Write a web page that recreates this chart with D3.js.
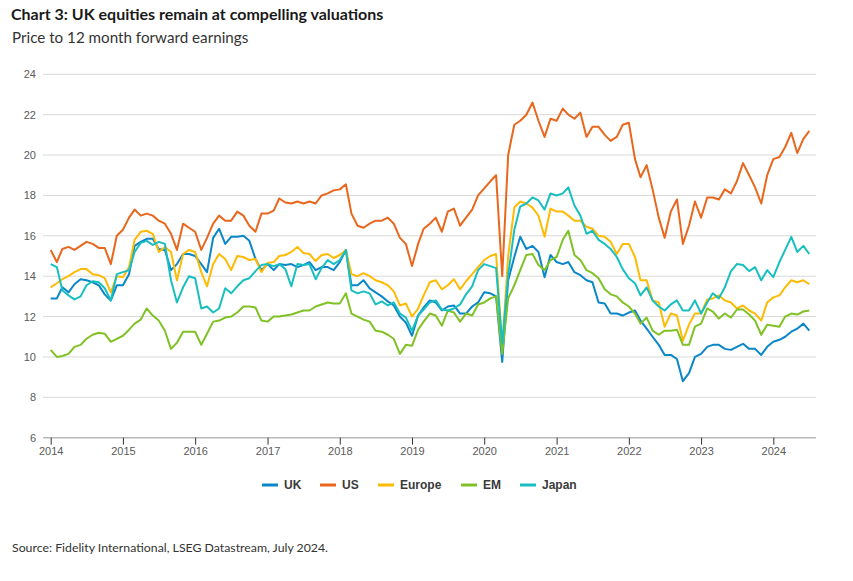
<!DOCTYPE html>
<html><head><meta charset="utf-8">
<script src="https://cdn.jsdelivr.net/npm/d3@7"></script>
<style>body{margin:0;background:#fff;} svg{display:block;}</style>
</head><body>
<svg id="chart" width="853" height="581"></svg>
<script>
// ---- data (monthly, Jan 2014 .. Jul 2024) ----
const seriesNames = ["UK", "US", "Europe", "EM", "Japan"];
const seriesColors = ["#0a87c8", "#e8671c", "#fdbb05", "#80c226", "#19bfc0"];
const yTicks = [6, 8, 10, 12, 14, 16, 18, 20, 22, 24];
const xTickYears = [2014, 2015, 2016, 2017, 2018, 2019, 2020, 2021, 2022, 2023, 2024];

const uk = [
 12.9, 12.9, 13.45, 13.2, 13.6, 13.85, 13.8, 13.7, 13.55, 13.1, 12.8, 13.55,
 13.55, 14.1, 15.5, 15.7, 15.85, 15.85, 15.35, 15.3, 14.3, 14.6, 15.1, 15.1,
 15.0, 14.6, 14.2, 15.9, 16.35, 15.6, 15.95, 15.95, 16.0, 15.75, 14.85, 14.3,
 14.6, 14.3, 14.6, 14.55, 14.6, 14.45, 14.55, 14.7, 14.3, 14.45, 14.45, 14.3,
 14.7, 15.3, 13.55, 13.55, 13.8, 13.4, 13.2, 13.0, 12.75, 12.55, 12.0, 11.7,
 11.05, 12.05, 12.45, 12.8, 12.7, 12.3, 12.5, 12.55, 12.15, 12.15, 12.5, 12.7,
 13.2, 13.15, 13.0, 9.75, 13.8, 14.95, 15.95, 15.35, 15.5, 15.2, 13.95, 15.05,
 14.7, 14.6, 14.7, 14.2, 14.05, 13.8, 13.7, 12.7, 12.65, 12.15, 12.15, 12.05,
 12.2, 12.3, 11.8, 11.4, 11.0, 10.6, 10.1, 10.1, 9.9, 8.8, 9.2, 10.0,
 10.15, 10.5, 10.6, 10.6, 10.4, 10.35, 10.5, 10.65, 10.4, 10.4, 10.1, 10.5,
 10.75, 10.85, 11.0, 11.25, 11.4, 11.65, 11.3
];
const us = [
 15.3, 14.7, 15.35, 15.45, 15.3, 15.5, 15.7, 15.6, 15.4, 15.4, 14.6, 16.0,
 16.3, 16.9, 17.3, 17.0, 17.1, 17.0, 16.75, 16.6, 16.1, 15.3, 16.6, 16.4,
 16.2, 15.3, 15.9, 16.6, 17.0, 16.75, 16.75, 17.2, 17.0, 16.5, 16.2, 17.1,
 17.1, 17.25, 17.85, 17.65, 17.6, 17.7, 17.6, 17.7, 17.6, 18.0, 18.1, 18.25,
 18.3, 18.55, 17.1, 16.5, 16.4, 16.6, 16.75, 16.75, 16.9, 16.6, 15.9, 15.6,
 14.5, 15.6, 16.35, 16.6, 16.9, 16.2, 17.2, 17.35, 16.5, 16.9, 17.3, 18.0,
 18.35, 18.7, 19.0, 14.0, 20.0, 21.5, 21.7, 22.0, 22.6, 21.7, 20.9, 21.8,
 21.7, 22.3, 22.0, 21.8, 22.1, 20.9, 21.4, 21.4, 21.0, 20.7, 20.9, 21.5,
 21.6, 19.8, 18.9, 19.5, 18.3, 16.9, 15.9, 17.2, 17.8, 15.6, 16.5, 17.7,
 16.9, 17.9, 17.9, 17.8, 18.3, 18.1, 18.7, 19.6, 19.0, 18.4, 17.6, 19.0,
 19.8, 19.9, 20.4, 21.1, 20.1, 20.8, 21.2
];
const europe = [
 13.45, 13.65, 13.85, 14.0, 14.2, 14.35, 14.35, 14.1, 14.05, 13.9, 13.2, 14.0,
 13.95, 14.45, 15.8, 16.2, 16.25, 16.1, 15.2, 15.45, 15.2, 13.8, 15.1, 15.3,
 15.2, 14.2, 13.5, 14.6, 15.1, 14.85, 14.3, 15.0, 14.95, 14.8, 14.85, 14.2,
 14.65, 14.7, 15.0, 15.05, 15.2, 15.45, 15.15, 15.1, 14.75, 15.05, 15.1, 14.9,
 15.05, 15.3, 14.1, 14.0, 14.15, 14.0, 13.8, 13.7, 13.55, 13.25, 12.55, 12.65,
 12.0, 12.4, 13.05, 13.7, 13.8, 13.35, 13.55, 13.85, 13.35, 13.75, 14.1, 14.45,
 14.8, 15.0, 15.1, 10.5, 15.0, 17.4, 17.7, 17.6, 17.4, 17.0, 15.95, 17.35,
 17.2, 17.2, 17.0, 16.75, 16.75, 16.45, 16.35, 16.0, 15.95, 15.7, 15.1, 15.6,
 15.6, 14.95, 13.8, 13.8, 12.8, 12.7, 11.5, 12.15, 12.05, 10.8, 11.6, 12.15,
 12.15, 12.85, 12.9, 13.05, 12.8, 12.7, 12.4, 12.55, 12.3, 12.15, 11.8, 12.7,
 12.95, 13.05, 13.45, 13.8, 13.7, 13.8, 13.6
];
const em = [
 10.35, 10.0, 10.05, 10.15, 10.5, 10.6, 10.9, 11.1, 11.2, 11.15, 10.75, 10.9,
 11.05, 11.35, 11.65, 11.85, 12.4, 12.05, 11.8, 11.3, 10.4, 10.7, 11.25, 11.25,
 11.25, 10.6, 11.15, 11.75, 11.8, 11.95, 12.0, 12.2, 12.5, 12.5, 12.45, 11.8,
 11.75, 12.0, 12.0, 12.05, 12.1, 12.2, 12.3, 12.3, 12.5, 12.6, 12.7, 12.65,
 12.65, 13.15, 12.15, 12.0, 11.85, 11.75, 11.3, 11.25, 11.1, 10.9, 10.15, 10.6,
 10.55, 11.35, 11.75, 12.15, 12.05, 11.55, 12.3, 12.2, 11.75, 12.15, 12.05, 12.6,
 12.7, 12.9, 13.0, 10.15, 12.9, 13.55, 14.3, 15.05, 15.1, 14.55, 14.3, 14.8,
 14.95, 15.8, 16.25, 15.05, 14.8, 14.3, 14.15, 13.9, 13.35, 13.1, 13.0, 12.7,
 12.5, 12.15, 11.65, 11.95, 11.3, 11.1, 11.3, 11.3, 11.35, 10.6, 10.6, 11.5,
 11.65, 12.4, 12.25, 11.9, 12.15, 11.95, 12.35, 12.35, 12.1, 11.8, 11.1, 11.6,
 11.55, 11.5, 12.0, 12.15, 12.1, 12.25, 12.3
];
const japan = [
 14.6, 14.45, 13.3, 13.05, 12.85, 13.0, 13.55, 13.75, 13.7, 13.4, 12.8, 14.1,
 14.2, 14.3, 15.2, 15.65, 15.75, 15.55, 15.7, 15.6, 13.8, 12.7, 13.45, 14.0,
 13.9, 12.4, 12.5, 12.2, 12.4, 13.4, 13.15, 13.5, 13.8, 13.9, 14.25, 14.55,
 14.6, 14.5, 14.6, 14.35, 13.5, 14.6, 14.55, 14.6, 13.85, 14.4, 14.8, 14.6,
 14.8, 15.3, 13.3, 13.15, 13.25, 13.15, 12.6, 12.75, 12.55, 12.7, 12.15, 11.95,
 11.3, 12.05, 12.35, 12.7, 12.8, 12.35, 12.3, 12.4, 12.6, 13.1, 13.5, 14.3,
 14.6, 14.5, 14.4, 10.65, 14.05, 16.3, 17.45, 17.6, 17.9, 17.75, 17.3, 18.1,
 18.0, 18.1, 18.4, 17.5, 17.0, 16.1, 16.25, 15.8, 15.6, 15.35, 14.95, 14.35,
 13.9, 13.65, 13.05, 13.45, 12.8, 12.5, 12.3, 12.6, 12.8, 12.3, 12.3, 12.8,
 12.15, 12.7, 13.15, 12.9, 13.45, 14.25, 14.6, 14.55, 14.25, 14.45, 13.8, 14.3,
 13.95, 14.7, 15.3, 15.95, 15.2, 15.5, 15.1
];
const seriesValues = [uk, us, europe, em, japan];

// ---- drawing ----
const svg = d3.select("#chart");
const startDate = new Date(2014, 0, 1);
const dates = d3.timeMonth.range(startDate, new Date(2014, uk.length, 1));

const x = d3.scaleTime()
  .domain([new Date(2014, 0, 1), new Date(2024, 0, 1)])
  .range([50.7, 773.3]);
const y = d3.scaleLinear().domain([6, 24]).range([437.7, 74.3]);
const plotLeft = 43, plotRight = 816;

// titles
svg.append("text").attr("x", 11).attr("y", 19.5)
  .style("font-family", "Lato, 'Noto Sans', sans-serif").style("font-weight", 700)
  .style("font-size", "16px").attr("fill", "#1a1a1a")
  .text("Chart 3: UK equities remain at compelling valuations");
svg.append("text").attr("x", 12).attr("y", 43)
  .style("font-family", "Lato, 'Noto Sans', sans-serif")
  .style("font-size", "15.2px").attr("fill", "#333")
  .text("Price to 12 month forward earnings");

// gridlines
svg.append("g").selectAll("line").data(yTicks.filter(t => t !== 6)).join("line")
  .attr("x1", plotLeft).attr("x2", plotRight)
  .attr("y1", d => y(d)).attr("y2", d => y(d))
  .attr("stroke", "#d9d9d9").attr("stroke-width", 1);

// y axis labels
const yAxis = d3.axisLeft(y).tickValues(yTicks).tickSize(0).tickPadding(7);
const gy = svg.append("g").attr("transform", `translate(${plotLeft},0)`).call(yAxis);
gy.select(".domain").remove();
gy.selectAll("text").style("font-family", "'Liberation Sans', Arial, sans-serif")
  .style("font-size", "11px").attr("fill", "#5a5a5a");

// x axis
svg.append("line").attr("x1", plotLeft).attr("x2", plotRight)
  .attr("y1", y(6)).attr("y2", y(6)).attr("stroke", "#b8b8b8").attr("stroke-width", 1.5);
const xAxis = d3.axisBottom(x)
  .tickValues(xTickYears.map(yr => new Date(yr, 0, 1)))
  .tickFormat(d3.timeFormat("%Y")).tickSize(7).tickPadding(3);
const gx = svg.append("g").attr("transform", `translate(0,${y(6)})`).call(xAxis);
gx.select(".domain").remove();
gx.selectAll(".tick line").attr("stroke", "#333");
gx.selectAll("text").style("font-family", "'Liberation Sans', Arial, sans-serif")
  .style("font-size", "11px").attr("fill", "#5a5a5a");

// lines
const line = d3.line().x((d, i) => x(dates[i])).y(d => y(d));
seriesValues.forEach((vals, k) => {
  svg.append("path").datum(vals).attr("d", line)
    .attr("fill", "none").attr("stroke", seriesColors[k])
    .attr("stroke-width", 2).attr("stroke-linejoin", "round");
});

// legend
const legendX = [262, 320, 378, 461, 520];
const lg = svg.append("g");
seriesNames.forEach((name, k) => {
  lg.append("line").attr("x1", legendX[k]).attr("x2", legendX[k] + 16)
    .attr("y1", 485).attr("y2", 485).attr("stroke", seriesColors[k]).attr("stroke-width", 3);
  lg.append("text").attr("x", legendX[k] + 22).attr("y", 489)
    .style("font-family", "'Liberation Sans', Arial, sans-serif").style("font-weight", 700)
    .style("font-size", "12px").attr("fill", "#3a3a3a").text(name);
});

// source
svg.append("text").attr("x", 12).attr("y", 552)
  .style("font-family", "Lato, 'Noto Sans', sans-serif")
  .style("font-size", "12.3px").attr("fill", "#333")
  .text("Source: Fidelity International, LSEG Datastream, July 2024.");
</script>
</body></html>
